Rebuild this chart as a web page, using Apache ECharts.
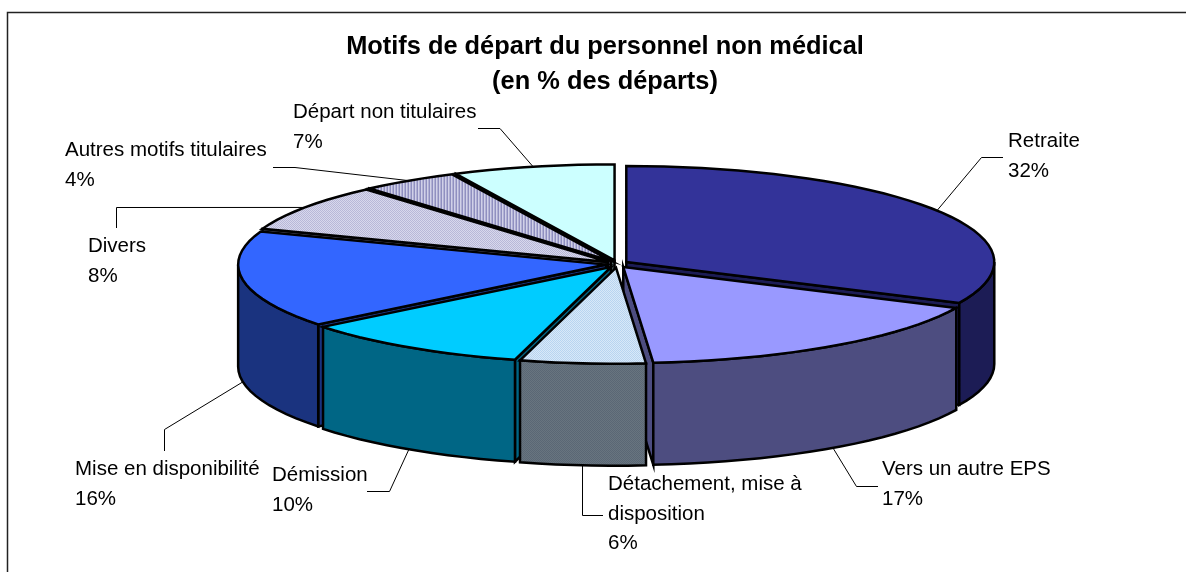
<!DOCTYPE html>
<html>
<head>
<meta charset="utf-8">
<style>
  html, body { margin: 0; padding: 0; background: #fff; }
  #chart { width: 1186px; height: 572px; }
</style>
</head>
<body>
<div id="chart"></div>
<script src="https://cdn.jsdelivr.net/npm/echarts@6/dist/echarts.min.js"></script>
<script>
// data, in the order the slices run clockwise from 12 o'clock
const categories = ['Retraite', 'Vers un autre EPS', 'Détachement, mise à\ndisposition', 'Démission',
  'Mise en disponibilité', 'Divers', 'Autres motifs titulaires', 'Départ non titulaires'];
const shares = [32, 16.7, 5.5, 10.1, 16.3, 8, 4.3, 7.1];

const topColors = ['#333399', '#9999ff', ['#b8d4f0', '#d8e8f8'], '#00ccff', '#3366ff',
  ['#b8b8d8', '#d8d8ec'], ['#8f8fc0', '#d0d0e8', '#b0b0d4'], '#ccffff'];
const wallColors = ['#1c1c55', '#4d4d80', ['#5a6775', '#68757f'], '#006685', '#1a337f',
  '#66667f', '#4d4d66', '#668080'];

// back slices are painted first so the front ones cover them
const drawOrder = [7, 6, 5, 0, 4, 1, 3, 2];

// pie geometry on the page
const centerX = 617, centerY = 264;
const radiusX = 368, radiusY = 96, depth = 102;
const explodeX = 11, explodeY = 3.7;

// leader elbow and end, then label corner
const leaders = [
  [[981.5, 157.5], [1003, 157.5]],
  [[856.5, 486.5], [878, 486.5]],
  [[582.5, 515.5], [603, 515.5]],
  [[389.5, 491.5], [367, 491.5]],
  [[164.5, 429.5], [164.5, 451]],
  [[116.5, 207.5], [116.5, 228]],
  [[295, 167.5], [273, 167.5]],
  [[500, 128.5], [478, 128.5]]
];
const labelPos = [[1008, 127], [882, 455], [608, 470], [272, 461], [75, 455], [88, 232], [65, 136], [293, 98]];
const lineHeight = 29.5;

function makeFill(c) {
  if (typeof c === 'string') return c;
  // small repeating tile for the dithered Excel fills
  const stripes = c.length === 3;
  const tile = document.createElement('canvas');
  tile.width = stripes ? 3 : 2;
  tile.height = 2;
  const ctx = tile.getContext('2d');
  for (let x = 0; x < tile.width; x++) {
    for (let y = 0; y < 2; y++) {
      ctx.fillStyle = stripes ? c[x] : c[(x + y) % 2];
      ctx.fillRect(x, y, 1, 1);
    }
  }
  return { image: tile, repeat: 'repeat' };
}

const total = shares.reduce((a, b) => a + b, 0);
const startAngles = [];
shares.reduce((sum, v, i) => { startAngles[i] = sum / total * 360; return sum + v; }, 0);

const rad = (d) => d * Math.PI / 180;

function apexOf(i) {
  const mid = rad(startAngles[i] + shares[i] / total * 180);
  return [centerX + explodeX * Math.sin(mid), centerY - explodeY * Math.cos(mid)];
}

function rimPoint(apex, deg, drop) {
  return [apex[0] + radiusX * Math.sin(rad(deg)), apex[1] - radiusY * Math.cos(rad(deg)) + (drop || 0)];
}

function arcPoints(apex, from, to, drop) {
  const pts = [];
  const steps = Math.max(2, Math.ceil((to - from) / 3));
  for (let s = 0; s <= steps; s++) pts.push(rimPoint(apex, from + (to - from) * s / steps, drop));
  return pts;
}

function polygon(points, fill) {
  return {
    type: 'polygon',
    shape: { points },
    style: { fill, stroke: '#000', lineWidth: 2.5, lineJoin: 'miter' }
  };
}

function renderSlice(params, api) {
  const i = drawOrder[params.dataIndex];
  const from = startAngles[i];
  const to = from + api.value(0) / total * 360;
  const apex = apexOf(i);
  const wall = makeFill(wallColors[i]);
  const children = [];

  // radial faces that look towards the viewer
  [[from, Math.sin(rad(from)) < -0.001], [to, Math.sin(rad(to)) > 0.001]].forEach(([deg, visible]) => {
    if (!visible) return;
    const edge = rimPoint(apex, deg);
    children.push(polygon([apex, edge, [edge[0], edge[1] + depth], [apex[0], apex[1] + depth]], wall));
  });

  // outer wall, only the front half of the ellipse shows
  const wallFrom = Math.max(from, 90), wallTo = Math.min(to, 270);
  if (wallTo > wallFrom) {
    children.push(polygon(
      arcPoints(apex, wallFrom, wallTo).concat(arcPoints(apex, wallFrom, wallTo, depth).reverse()), wall));
  }

  children.push(polygon([apex].concat(arcPoints(apex, from, to)), makeFill(topColors[i])));

  // leader from the middle of the rim out to the label
  const mid = (from + to) / 2;
  const onWall = mid > 90 && mid < 270;
  children.push({
    type: 'polyline',
    shape: { points: [rimPoint(apex, mid, onWall ? depth : 0)].concat(leaders[i]) },
    style: { fill: null, stroke: '#000', lineWidth: 1 }
  });

  children.push({
    type: 'text',
    x: labelPos[i][0],
    y: labelPos[i][1],
    style: {
      text: categories[i] + '\n' + Math.round(api.value(0)) + '%',
      font: '20.5px "Liberation Sans", Arial, sans-serif',
      lineHeight,
      fill: '#000',
      align: 'left',
      verticalAlign: 'top'
    }
  });

  return { type: 'group', children };
}

const chart = echarts.init(document.getElementById('chart'));
chart.setOption({
  animation: false,
  backgroundColor: '#fff',
  title: {
    text: 'Motifs de départ du personnel non médical\n(en % des départs)',
    left: 600,
    top: 24,
    textAlign: 'center',
    textVerticalAlign: 'top',
    textStyle: {
      fontFamily: '"Liberation Sans", Arial, sans-serif',
      fontSize: 25.4,
      fontWeight: 'bold',
      color: '#000',
      lineHeight: 35
    }
  },
  graphic: [
    { type: 'polyline', silent: true, shape: { points: [[7.5, 572], [7.5, 12.5], [1186, 12.5]] },
      style: { fill: null, stroke: '#222', lineWidth: 1.5 } }
  ],
  series: [{
    type: 'custom',
    coordinateSystem: 'none',
    silent: true,
    renderItem: renderSlice,
    data: drawOrder.map((i) => [shares[i]])
  }]
});
</script>
</body>
</html>
